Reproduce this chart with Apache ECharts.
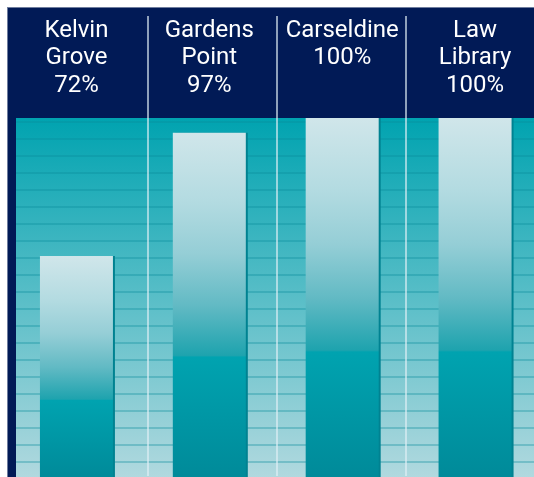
<!DOCTYPE html>
<html>
<head>
<meta charset="utf-8">
<script src="https://cdn.jsdelivr.net/npm/echarts@6/dist/echarts.min.js"></script>
<style>
  html, body { margin: 0; padding: 0; background: #ffffff; overflow: hidden; }
  #wrap { position: absolute; left: 7px; top: 7px; width: 527px; height: 470px;
          border-top: 1px solid #6f7d9e; border-left: 1px solid #6f7d9e; }
  #chart { width: 527px; height: 470px; }
</style>
</head>
<body>
<div id="wrap"><div id="chart"></div></div>
<script>
// ---- data ----
const categories = ['Kelvin\nGrove', 'Gardens\nPoint', 'Carseldine', 'Law\nLibrary'];
const values = [72, 97, 100, 100];
const valueSuffix = '%';

// ---- chart ----
const chart = echarts.init(document.getElementById('chart'), null, { renderer: 'canvas' });
const G = echarts.graphic;
const font = 'Roboto, "Liberation Sans", sans-serif';

const option = {
  backgroundColor: '#011a56',
  animation: false,
  grid: [
    { // striped background
      left: 8, right: 0, top: 110, bottom: -1, show: true, borderWidth: 0,
      outerBoundsMode: 'none', containLabel: false,
      backgroundColor: new G.LinearGradient(0, 0, 0, 1, [
        { offset: 0, color: '#00a3b0' },
        { offset: 1, color: '#b2d9df' }
      ])
    },
    { left: 2, right: -6.5, top: 110, bottom: 0, outerBoundsMode: 'none', containLabel: false },   // bars
    { left: 10, right: 0, top: 8, bottom: 2, outerBoundsMode: 'none', containLabel: false }        // separators
  ],
  xAxis: [
    { gridIndex: 0, type: 'value', show: false, min: 0, max: 1 },
    {
      gridIndex: 1, type: 'category', position: 'top', data: categories,
      axisLine: { show: false }, axisTick: { show: false }, splitLine: { show: false },
      axisLabel: {
        margin: 101, verticalAlign: 'top', color: '#ffffff',
        fontFamily: font, fontSize: 24, lineHeight: 27.5, interval: 0,
        formatter: (v, i) => v + '\n' + values[i] + valueSuffix
      }
    },
    {
      gridIndex: 2, type: 'category', data: categories,
      axisLine: { show: false }, axisTick: { show: false }, axisLabel: { show: false },
      splitLine: { show: true, showMinLine: false, showMaxLine: false,
        lineStyle: { color: 'rgba(225,238,244,0.85)', width: 1.5 } }
    }
  ],
  yAxis: [
    {
      gridIndex: 0, type: 'value', min: 0, max: 21.24, interval: 1,
      axisLine: { show: false }, axisTick: { show: false }, axisLabel: { show: false },
      splitLine: { show: true, showMinLine: false, showMaxLine: false,
        lineStyle: { color: 'rgba(10,140,155,0.33)', width: 2 } }
    },
    { gridIndex: 1, type: 'value', min: 27, max: 100, show: false, splitLine: { show: false } },
    { gridIndex: 2, type: 'value', min: 0, max: 1, show: false, splitLine: { show: false } }
  ],
  series: [
    {
      type: 'bar', xAxisIndex: 1, yAxisIndex: 1, data: values, barWidth: 73,
      itemStyle: {
        color: new G.LinearGradient(0, 0, 0, 1, [
          { offset: 0, color: '#d0e6ea' },
          { offset: 0.2, color: '#b3dbe1' },
          { offset: 0.35, color: '#95ced6' },
          { offset: 0.5, color: '#62bac4' },
          { offset: 0.645, color: '#1ea3ae' },
          { offset: 0.65, color: '#00a3b0' },
          { offset: 1, color: '#008a99' }
        ]),
        shadowColor: 'rgba(0,130,145,1)', shadowOffsetX: 2, shadowOffsetY: 0, shadowBlur: 0
      }
    }
  ]
};
chart.setOption(option);
</script>
</body>
</html>
